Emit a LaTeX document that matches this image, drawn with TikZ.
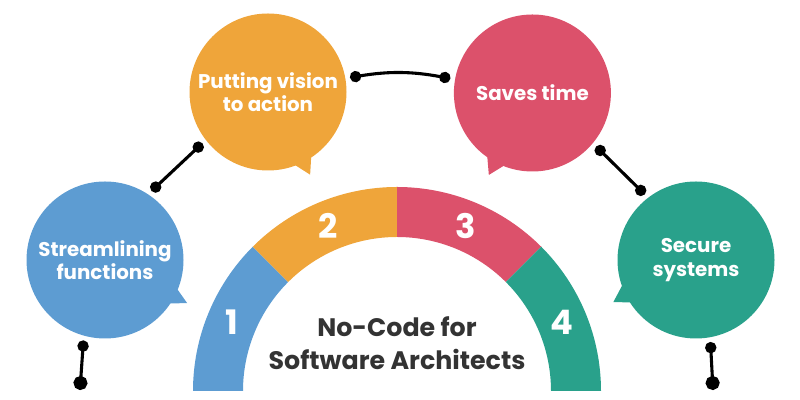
\documentclass[tikz,border=0pt]{standalone}
\usepackage{fontspec}
\newfontfamily\poppins{Poppins}
\usetikzlibrary{arrows.meta}

\definecolor{tblue}{HTML}{5D9CD2}
\definecolor{torange}{HTML}{EFA53A}
\definecolor{tred}{HTML}{DC516B}
\definecolor{tgreen}{HTML}{29A18B}
\definecolor{tdark}{HTML}{333333}

\tikzset{
  bubble/.style={circle, minimum size=3.925cm, inner sep=0pt, outer sep=0.12cm,
    text=white, align=center, font=\poppins\bfseries\fontsize{14.1}{16.5}\selectfont},
  link/.style={line width=2.2pt, {Circle[length=8pt]}-{Circle[length=8pt]}},
  stub/.style={line width=2.2pt, {Circle[length=8pt]}-{Circle[length=10pt]}},
  segnum/.style={text=white, font=\poppins\bfseries\fontsize{24}{24}\selectfont},
}

\begin{document}
\begin{tikzpicture}
    \useasboundingbox (0,0) rectangle (20,10);
    \coordinate (hub) at (9.925,0.225);
    % half ring
    \fill[tblue] ([shift={(180:5.1)}]hub) arc[start angle=180, end angle=135, radius=5.1] -- ([shift={(135:3.85)}]hub) arc[start angle=135, end angle=180, radius=3.85] -- cycle;
    \fill[torange] ([shift={(135:5.1)}]hub) arc[start angle=135, end angle=90, radius=5.1] -- ([shift={(90:3.85)}]hub) arc[start angle=90, end angle=135, radius=3.85] -- cycle;
    \fill[tred] ([shift={(90:5.1)}]hub) arc[start angle=90, end angle=45, radius=5.1] -- ([shift={(45:3.85)}]hub) arc[start angle=45, end angle=90, radius=3.85] -- cycle;
    \fill[tgreen] ([shift={(45:5.1)}]hub) arc[start angle=45, end angle=0, radius=5.1] -- ([shift={(0:3.85)}]hub) arc[start angle=0, end angle=45, radius=3.85] -- cycle;
    \node[segnum] (one) at ([shift={(157.5:4.475)}]hub) {1};
    \node[segnum] (two) at ([shift={(112.5:4.475)}]hub) {2};
    \node[segnum] (three) at ([shift={(67.5:4.475)}]hub) {3};
    \node[segnum] (four) at ([shift={(22.5:4.475)}]hub) {4};
    \node[text=tdark, align=center, font=\poppins\bfseries\fontsize{18}{23.4}\selectfont] (title) at (9.925,1.41) {No-Code for\\Software Architects};

    % speech bubbles
    \node[bubble, fill=tblue] (stream) at (2.625,3.5) {Streamlining\\functions};
    \node[bubble, fill=torange] (vision) at (6.7,7.7) {Putting vision\\to action};
    \node[bubble, fill=tred] (saves) at (13.31,7.675) {Saves time};
    \node[bubble, fill=tgreen] (secure) at (17.4,3.5) {Secure\\systems};
    \fill[tblue] ([shift={(-20:1.85)}]stream.center) -- ([shift={(-27.7:2.32)}]stream.center) -- ([shift={(-36:1.85)}]stream.center) -- cycle;
    \fill[torange] ([shift={(-72:1.85)}]vision.center) -- ([shift={(-63:2.32)}]vision.center) -- ([shift={(-54:1.85)}]vision.center) -- cycle;
    \fill[tred] ([shift={(232:1.85)}]saves.center) -- ([shift={(242:2.32)}]saves.center) -- ([shift={(251:1.85)}]saves.center) -- cycle;
    \fill[tgreen] ([shift={(196:1.85)}]secure.center) -- ([shift={(207:2.32)}]secure.center) -- ([shift={(215:1.85)}]secure.center) -- cycle;

    % links
    \coordinate (streamfoot) at (2.0,0.25);
    \coordinate (securefoot) at (17.825,0.25);
    \draw[stub] (stream.255) -- (streamfoot);
    \draw[link] (stream.56) -- (vision.218);
    \draw[link] (vision.10) to[bend left=10] (saves.170);
    \draw[link] (saves.-40) -- (secure.128);
    \draw[stub] (secure.280) -- (securefoot);
\end{tikzpicture}
\end{document}
